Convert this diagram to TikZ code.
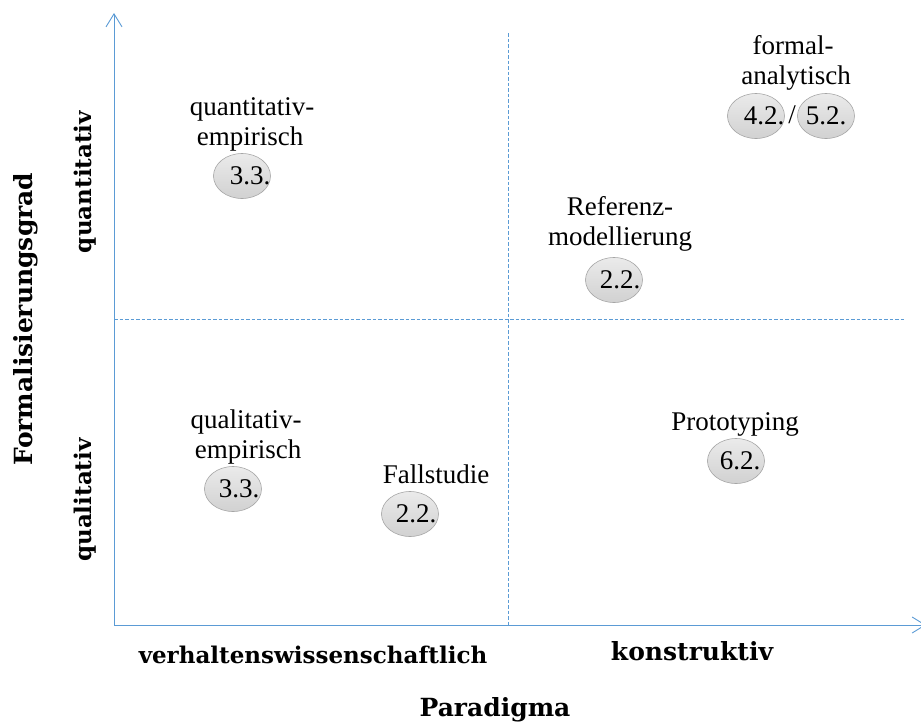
\documentclass[tikz,border=0pt]{standalone}
\usepackage{fontspec}
\setmainfont{Liberation Serif}
\newfontfamily\axisfont{DejaVu Serif}
\usetikzlibrary{arrows.meta,shapes.geometric}
\definecolor{axisblue}{HTML}{5B9BD5}
\definecolor{ringgray}{HTML}{A6A6A6}
\tikzset{
  axis/.style={draw=axisblue, line width=0.9pt, -{Straight Barb[length=13pt,width=16pt,line width=0.9pt]}},
  divider/.style={draw=axisblue, line width=1pt, dash pattern=on 3.5pt off 2pt},
  label/.style={font=\fontsize{27}{30}\selectfont, anchor=base, inner sep=0pt},
  axlabel/.style={font=\axisfont\fontsize{23}{26}\selectfont\bfseries, inner sep=0pt},
  axtitle/.style={font=\axisfont\fontsize{25}{28}\selectfont\bfseries, inner sep=0pt},
  chap/.style={ellipse, draw=ringgray, line width=0.6pt, top color=gray!16, bottom color=gray!36,
    minimum width=57pt, minimum height=45pt, inner sep=0pt},
  num/.style={font=\fontsize{27}{30}\selectfont, inner sep=0pt},
}
\begin{document}
\begin{tikzpicture}[x=1pt,y=-1pt]
\useasboundingbox (0,0) rectangle (921,726);
% axes
\coordinate (o) at (114,625);
\coordinate (ytip) at (114,13);
\coordinate (xtip) at (926,625);
\draw[axis] (o) -- (ytip);
\draw[axis] (o) -- (xtip);
% quadrant dividers
\coordinate (vtop) at (508,33);
\coordinate (vbot) at (508,625);
\coordinate (hl) at (114,319);
\coordinate (hr) at (904,319);
\draw[divider] (vtop) -- (vbot);
\draw[divider] (hl) -- (hr);

% chapter ellipses
\node[chap] (c33a) at (242,176) {};
\node[num] at ([xshift=8pt]c33a.center) {3.3.};
\node[chap] (c42) at (756,116) {};
\node[num] at ([xshift=8pt]c42.center) {4.2.};
\node[chap] (c52) at (826,116) {};
\node[num] at (c52.center) {5.2.};
\node[num] (slash) at (792,115) {/};
\node[chap] (c22a) at (614,280) {};
\node[num] at ([xshift=6pt]c22a.center) {2.2.};
\node[chap] (c33b) at (233,489) {};
\node[num] at ([xshift=6pt]c33b.center) {3.3.};
\node[chap] (c22b) at (410,514) {};
\node[num] at ([xshift=6pt]c22b.center) {2.2.};
\node[chap] (c62) at (736,461) {};
\node[num] at ([xshift=4pt]c62.center) {6.2.};

% quadrant labels
\node[label] (qe1) at (252,115) {quantitativ-};
\node[label] (qe2) at (250,145) {empirisch};
\node[label] (fa1) at (793,54) {formal-};
\node[label] (fa2) at (796,84) {analytisch};
\node[label] (rm1) at (620,215) {Referenz-};
\node[label] (rm2) at (620,245) {modellierung};
\node[label] (le1) at (246,428) {qualitativ-};
\node[label] (le2) at (248,458) {empirisch};
\node[label] (fs) at (436,483) {Fallstudie};
\node[label] (pt) at (735,430) {Prototyping};

% axis labels
\node[axlabel, anchor=base] (xl1) at (313,663) {verhaltenswissenschaftlich};
\node[axtitle, anchor=base] (xl2) at (692,660) {konstruktiv};
\node[axtitle, anchor=base] (xt) at (495,716) {Paradigma};
\node[axlabel, rotate=90] (yl1) at (85,182) {quantitativ};
\node[axlabel, rotate=90] (yl2) at (85,500) {qualitativ};
\node[axtitle, rotate=90] (yt) at (26,319) {Formalisierungsgrad};
\end{tikzpicture}
\end{document}
